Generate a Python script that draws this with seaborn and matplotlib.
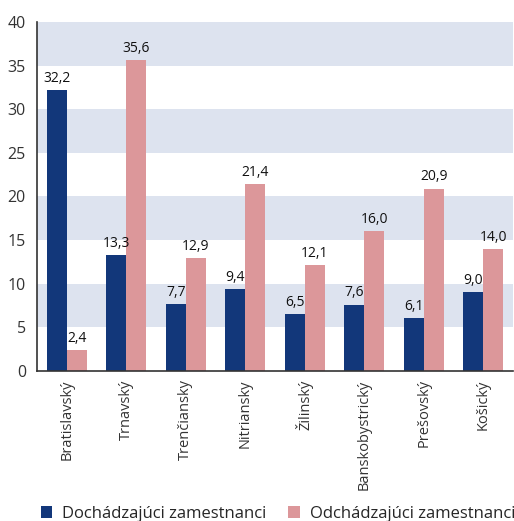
import numpy as np
import pandas as pd
import matplotlib
matplotlib.use("Agg")
import matplotlib.pyplot as plt
import seaborn as sns

regions = ["Bratislavský", "Trnavský", "Trenčiansky", "Nitriansky",
           "Žilinský", "Banskobystrický", "Prešovský", "Košický"]
dochadzajuci = [32.2, 13.3, 7.7, 9.4, 6.5, 7.6, 6.1, 9.0]
odchadzajuci = [2.4, 35.6, 12.9, 21.4, 12.1, 16.0, 20.9, 14.0]
series_names = ["Dochádzajúci zamestnanci", "Odchádzajúci zamestnanci"]
colors = ["#12377a", "#dc979a"]

df = pd.DataFrame({
    "region": regions * 2,
    "value": dochadzajuci + odchadzajuci,
    "series": [series_names[0]] * len(regions) + [series_names[1]] * len(regions),
})

sns.set_style("white")
plt.rcParams["font.family"] = ["Open Sans", "DejaVu Sans"]

fig = plt.figure(figsize=(5.14, 5.21), dpi=100)
ax = fig.add_axes([0.072, 0.288, 0.926, 0.67])

# alternating horizontal bands
for lo in range(5, 40, 10):
    ax.axhspan(lo, lo + 5, color="#dde3ef", lw=0, zorder=0)

sns.barplot(data=df, x="region", y="value", hue="series", palette=colors,
            width=0.67, saturation=1, ax=ax, zorder=2, legend=True,
            linewidth=0, edgecolor="none")

for cont in ax.containers:
    labels = [f"{v:.1f}".replace(".", ",") for v in cont.datavalues]
    ax.bar_label(cont, labels=labels, padding=3, fontsize=10, color="#111111")

ax.set_ylim(0, 40)
ax.set_xlim(-0.5, len(regions) - 0.5)
ax.set_yticks(range(0, 41, 5))
ax.tick_params(axis="y", labelsize=11.5, labelcolor="#333333", length=4, width=1,
               direction="out", pad=4, color="#333333")
ax.set_xticks(range(len(regions)))
ax.set_xticklabels(regions, rotation=90, fontsize=10.5, color="#333333")
ax.tick_params(axis="x", length=0, pad=6)
ax.set_xticks(np.arange(-0.5, len(regions) + 0.5, 1), minor=True)
ax.tick_params(axis="x", which="minor", length=5, width=1, color="#333333", direction="out")
ax.set_xlabel("")
ax.set_ylabel("")
for side in ["top", "right"]:
    ax.spines[side].set_visible(False)
for side in ["left", "bottom"]:
    ax.spines[side].set_color("#333333")
    ax.spines[side].set_linewidth(1.2)

handles, labs = ax.get_legend_handles_labels()
ax.get_legend().remove()
fig.legend(handles, labs, loc="lower left", bbox_to_anchor=(0.05, -0.03), ncol=2,
           frameon=False, fontsize=12, handlelength=0.7, handleheight=0.7,
           columnspacing=1.3, handletextpad=0.6)

fig.savefig("out.png", dpi=100)
